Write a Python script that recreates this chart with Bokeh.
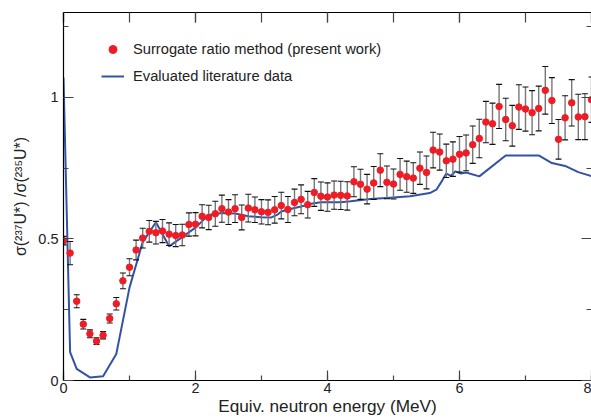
from bokeh.plotting import figure
from bokeh.models import (LinearAxis, SingleIntervalTicker, CustomJSTickFormatter,
                          Legend, LegendItem, Range1d, ColumnDataSource)
from bokeh.embed import file_html
from bokeh.resources import INLINE

# ---- data ----
energy = [0.0, 0.1, 0.2, 0.3, 0.4, 0.5, 0.6, 0.7, 0.8, 0.9,
          1.0, 1.1, 1.2, 1.3, 1.4, 1.5, 1.6, 1.7, 1.8, 1.9,
          2.0, 2.1, 2.2, 2.3, 2.4, 2.5, 2.6, 2.7, 2.8, 2.9,
          3.0, 3.1, 3.2, 3.3, 3.4, 3.5, 3.6, 3.7, 3.8, 3.9,
          4.0, 4.1, 4.2, 4.3, 4.4, 4.5, 4.6, 4.7, 4.8, 4.9,
          5.0, 5.1, 5.2, 5.3, 5.4, 5.5, 5.6, 5.7, 5.8, 5.9,
          6.0, 6.1, 6.2, 6.3, 6.4, 6.5, 6.6, 6.7, 6.8, 6.9,
          7.0, 7.1, 7.2, 7.3, 7.4, 7.5, 7.6, 7.7, 7.8, 7.9, 8.0]

ratio = [0.494, 0.450, 0.280, 0.199, 0.165, 0.139, 0.160, 0.219, 0.271, 0.352,
         0.400, 0.461, 0.503, 0.527, 0.522, 0.528, 0.517, 0.512, 0.514, 0.551,
         0.552, 0.580, 0.576, 0.589, 0.607, 0.595, 0.607, 0.576, 0.609, 0.603,
         0.596, 0.594, 0.603, 0.618, 0.604, 0.629, 0.640, 0.621, 0.664, 0.651,
         0.648, 0.655, 0.654, 0.652, 0.702, 0.693, 0.676, 0.698, 0.743, 0.700,
         0.694, 0.728, 0.720, 0.715, 0.750, 0.735, 0.814, 0.807, 0.776, 0.782,
         0.799, 0.804, 0.833, 0.855, 0.913, 0.907, 0.968, 0.922, 0.900, 0.966,
         0.959, 0.946, 0.961, 1.025, 0.989, 0.852, 0.928, 0.981, 0.931, 0.932, 0.992]

ratio_err = [0.015, 0.041, 0.023, 0.017, 0.014, 0.012, 0.013, 0.016, 0.022, 0.028,
             0.030, 0.035, 0.035, 0.038, 0.040, 0.041, 0.040, 0.039, 0.038, 0.041,
             0.041, 0.041, 0.043, 0.044, 0.048, 0.044, 0.049, 0.044, 0.049, 0.045,
             0.043, 0.044, 0.047, 0.047, 0.046, 0.047, 0.051, 0.047, 0.049, 0.050,
             0.050, 0.050, 0.050, 0.050, 0.053, 0.053, 0.052, 0.058, 0.058, 0.058,
             0.053, 0.056, 0.055, 0.054, 0.057, 0.058, 0.063, 0.064, 0.059, 0.061,
             0.063, 0.063, 0.066, 0.068, 0.073, 0.073, 0.078, 0.075, 0.072, 0.079,
             0.078, 0.078, 0.079, 0.084, 0.081, 0.070, 0.078, 0.082, 0.080, 0.081, 0.080]

eval_energy = [0.0, 0.1, 0.2, 0.4, 0.6, 0.8, 1.0, 1.2, 1.4, 1.6,
               2.0, 2.2, 2.4, 2.6, 2.8, 3.0, 3.15, 3.25, 3.3, 3.45,
               3.6, 3.75, 3.9, 4.2, 4.35, 4.65, 4.95, 5.25, 5.55, 5.65,
               5.74, 5.8, 5.87, 5.94, 6.02, 6.1, 6.3, 6.7, 7.2, 7.4,
               7.6, 7.8, 8.0]
eval_ratio = [1.07, 0.10, 0.041, 0.011, 0.015, 0.094, 0.328, 0.489, 0.559, 0.474,
              0.540, 0.585, 0.592, 0.590, 0.580, 0.577, 0.576, 0.587, 0.597, 0.607,
              0.615, 0.624, 0.630, 0.630, 0.633, 0.641, 0.646, 0.651, 0.662, 0.674,
              0.707, 0.731, 0.723, 0.739, 0.731, 0.735, 0.721, 0.795, 0.795, 0.768,
              0.758, 0.736, 0.722]

x_ticks_interval = 2
y_ticks_interval = 0.5

legend_labels = ["Surrogate ratio method (present work)", "Evaluated literature data"]
x_title = "Equiv. neutron energy (MeV)"
y_title = "σ(²³⁷U*) /σ(²³⁵U*)"

FONT = "Liberation Sans"
TXT = "#222222"

src = ColumnDataSource(dict(
    e=energy, r=ratio,
    lo=[v - d for v, d in zip(ratio, ratio_err)],
    hi=[v + d for v, d in zip(ratio, ratio_err)],
))

p = figure(width=591, height=418, x_range=Range1d(0, 8), y_range=Range1d(0, 1.3),
           output_backend="svg", toolbar_location=None,
           min_border_left=63, min_border_right=0, min_border_top=12, min_border_bottom=38)
p.grid.visible = False
p.outline_line_color = None
p.background_fill_color = "white"
p.border_fill_color = "white"

def style_axis(ax, major_in, minor_in, labels=True, line=True):
    ax.major_tick_in = major_in
    ax.major_tick_out = 0
    ax.minor_tick_in = minor_in
    ax.minor_tick_out = 0
    ax.axis_line_color = "black" if line else None
    ax.axis_line_width = 1.2
    ax.major_tick_line_color = "#444444"
    ax.minor_tick_line_color = "#444444"
    ax.major_tick_line_width = 1.2
    ax.minor_tick_line_width = 1.2
    if not labels:
        ax.formatter = CustomJSTickFormatter(code="return '';")
        ax.major_label_text_font_size = "0px"
        ax.major_label_standoff = 0

xa = p.xaxis[0]
xa.ticker = SingleIntervalTicker(interval=x_ticks_interval, num_minor_ticks=2)
style_axis(xa, 10, 5)
xa.formatter = CustomJSTickFormatter(code="return tick.toString();")
xa.major_label_text_font = FONT
xa.major_label_text_font_size = "14.5px"
xa.major_label_text_color = TXT
xa.major_label_standoff = 2
xa.axis_label = x_title
xa.axis_label_text_font = FONT
xa.axis_label_text_font_size = "17.2px"
xa.axis_label_text_font_style = "normal"
xa.axis_label_text_color = TXT
xa.axis_label_standoff = 0

ya = p.yaxis[0]
ya.ticker = SingleIntervalTicker(interval=y_ticks_interval, num_minor_ticks=2)
style_axis(ya, 10, 5)
ya.formatter = CustomJSTickFormatter(code="return tick.toString();")
ya.major_label_text_font = FONT
ya.major_label_text_font_size = "14.5px"
ya.major_label_text_color = TXT
ya.major_label_standoff = 5
ya.axis_label = y_title
ya.axis_label_text_font = FONT
ya.axis_label_text_font_size = "16px"
ya.axis_label_text_font_style = "normal"
ya.axis_label_text_color = TXT
ya.axis_label_standoff = 6

top = LinearAxis(ticker=SingleIntervalTicker(interval=x_ticks_interval, num_minor_ticks=2))
style_axis(top, 10, 10, labels=False)
p.add_layout(top, "above")

right = LinearAxis(ticker=SingleIntervalTicker(interval=y_ticks_interval, num_minor_ticks=2))
style_axis(right, 10, 5, labels=False, line=False)
p.add_layout(right, "right")

# evaluated data line
ln = p.line(eval_energy, eval_ratio, line_color="#3352a6", line_width=2)

# error bars
p.segment(x0="e", y0="lo", x1="e", y1="hi", source=src, line_color="#777777", line_width=1.4)
p.scatter("e", "hi", source=src, marker="dash", size=6, line_color="#111111", line_width=1.1)
p.scatter("e", "lo", source=src, marker="dash", size=6, line_color="#111111", line_width=1.1)

# points
pts = p.scatter("e", "r", source=src, size=6.5, fill_color="#ee1c25", line_color="#ee1c25")

legend = Legend(items=[LegendItem(label=legend_labels[0], renderers=[pts]),
                       LegendItem(label=legend_labels[1], renderers=[ln])],
                location=(38, 294), padding=0, margin=0, spacing=7,
                glyph_width=23, glyph_height=20, label_height=20, label_standoff=9,
                border_line_alpha=0, background_fill_alpha=0,
                label_text_font=FONT, label_text_font_size="14.7px", label_text_color=TXT)
p.add_layout(legend)

open("out.html", "w").write(file_html(p, INLINE))
